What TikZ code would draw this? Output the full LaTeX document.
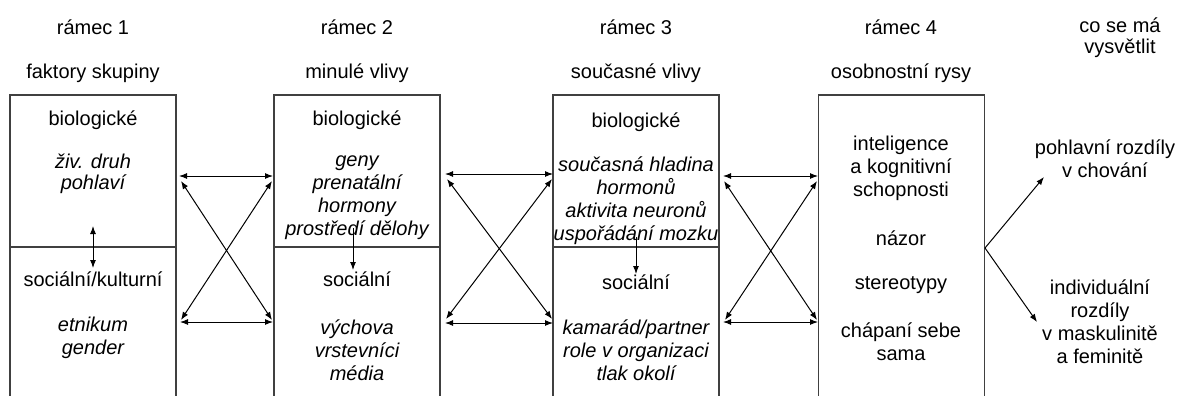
\documentclass[tikz,border=0pt]{standalone}
\usepackage{fontspec}
\setmainfont{Liberation Sans}
\usetikzlibrary{arrows.meta}

\begin{document}
\begin{tikzpicture}[x=0.5pt,y=-0.5pt,
    txt/.style = {font=\fontsize{10}{11.5}\selectfont, align=center, inner sep=0pt},
    ital/.style = {font=\fontsize{10}{11.5}\selectfont\itshape},
    box/.style = {draw=black!75, line width=0.7pt, minimum width=83pt, inner sep=0pt},
    con/.style = {line width=0.5pt, {Latex[length=4pt,width=3pt]}-{Latex[length=4pt,width=3pt]}},
    one/.style = {line width=0.5pt, -{Latex[length=4pt,width=3pt]}}]
    \useasboundingbox (0,0) rectangle (1184,396);
    \clip (0,0) rectangle (1184,396);

            \begin{scope}[every node/.style = {box}]
                \node(b1) at (93,171) [minimum height=76pt] {};
                \node(s1) at (93,333.5) [minimum height=86.5pt] {};
                \node(b2) at (357,171) [minimum height=76pt] {};
                \node(s2) at (357,333.5) [minimum height=86.5pt] {};
                \node(b3) at (636,171) [minimum height=76pt] {};
                \node(s3) at (636,333.5) [minimum height=86.5pt] {};
                \node(o4) at (901.5,257.5) [minimum height=162.5pt] {};
            \end{scope}

            \begin{scope}[every node/.style = {txt}]
                \node(r1) at (93,27) {rámec 1};
                \node(r2) at (357,27) {rámec 2};
                \node(r3) at (636,27) {rámec 3};
                \node(r4) at (901,27) {rámec 4};
                \node(r5) at (1120,37.5) {co se má\\[-1pt]vysvětlit};
                \node(f1) at (93,73) {faktory skupiny};
                \node(f2) at (357,73) {minulé vlivy};
                \node(f3) at (636,73) {současné vlivy};
                \node(f4) at (901,73) {osobnostní rysy};

                \node(bio1) at (93,120) {biologické};
                \node(bi1) at (93,174) [ital] {živ. druh\\[-1pt]pohlaví};
                \node(soc1) at (93,279) {sociální/kulturní};
                \node(so1) at (93,338) [ital] {etnikum\\gender};

                \node(bio2) at (357,120) {biologické};
                \node(bi2) at (357,198) [ital] {geny\\prenatální\\hormony\\prostředí dělohy};
                \node(soc2) at (357,279) {sociální};
                \node(so2) at (357,350) [ital] {výchova\\vrstevníci\\média};

                \node(bio3) at (636,122) {biologické};
                \node(bi3) at (636,201) [ital] {současná hladina\\hormonů\\aktivita neuronů\\uspořádání mozku};
                \node(soc3) at (636,282) {sociální};
                \node(so3) at (636,350) [ital] {kamarád/partner\\role v organizaci\\tlak okolí};

                \node(os1) at (901,168) {inteligence\\a kognitivní\\schopnosti};
                \node(os2) at (901,238) {názor};
                \node(os3) at (901,285) {stereotypy};
                \node(os4) at (901,341.5) {chápaní sebe\\sama};

                \node(v1) at (1105,158.5) {pohlavní rozdíly\\v chování};
                \node(v2) at (1100,322) {individuální\\rozdíly\\v maskulinitě\\a feminitě};
            \end{scope}

            % arrows between frames
            \coordinate(a1) at (179,176);  \coordinate(a2) at (273,176);
            \coordinate(a3) at (181,181);  \coordinate(a4) at (272,181);
            \coordinate(a5) at (181,320);  \coordinate(a6) at (272,320);
            \coordinate(a7) at (180,322);  \coordinate(a8) at (273,322);

            \coordinate(c1) at (445,174);  \coordinate(c2) at (553,174);
            \coordinate(c3) at (447,179);  \coordinate(c4) at (552,179);
            \coordinate(c5) at (446,319);  \coordinate(c6) at (552,319);
            \coordinate(c7) at (445,323);  \coordinate(c8) at (553,323);

            \coordinate(d1) at (723,176);  \coordinate(d2) at (818,176);
            \coordinate(d3) at (724,181);  \coordinate(d4) at (817,181);
            \coordinate(d5) at (725,320);  \coordinate(d6) at (817,320);
            \coordinate(d7) at (723,322);  \coordinate(d8) at (818,322);

            \begin{scope}[every edge/.style = {draw, con}]
                \path(a1) edge (a2);  \path(a7) edge (a8);
                \path(a3) edge (a6);  \path(a5) edge (a4);
                \path(c1) edge (c2);  \path(c7) edge (c8);
                \path(c3) edge (c6);  \path(c5) edge (c4);
                \path(d1) edge (d2);  \path(d7) edge (d8);
                \path(d3) edge (d6);  \path(d5) edge (d4);
            \end{scope}

            % arrows inside frames and to the right
            \coordinate(e1) at (93,226);   \coordinate(e2) at (93,268);
            \coordinate(g1) at (353,228);  \coordinate(g2) at (353,270);
            \coordinate(h1) at (636,237);  \coordinate(h2) at (636,274);
            \coordinate(k0) at (985,248);
            \coordinate(k1) at (1044,177); \coordinate(k2) at (1037,322);

            \begin{scope}[every edge/.style = {draw, one}]
                \path(e1) edge[con] (e2);
                \path(g1) edge (g2);
                \path(h1) edge (h2);
                \path(k0) edge (k1);
                \path(k0) edge (k2);
            \end{scope}
        \end{tikzpicture}
\end{document}
